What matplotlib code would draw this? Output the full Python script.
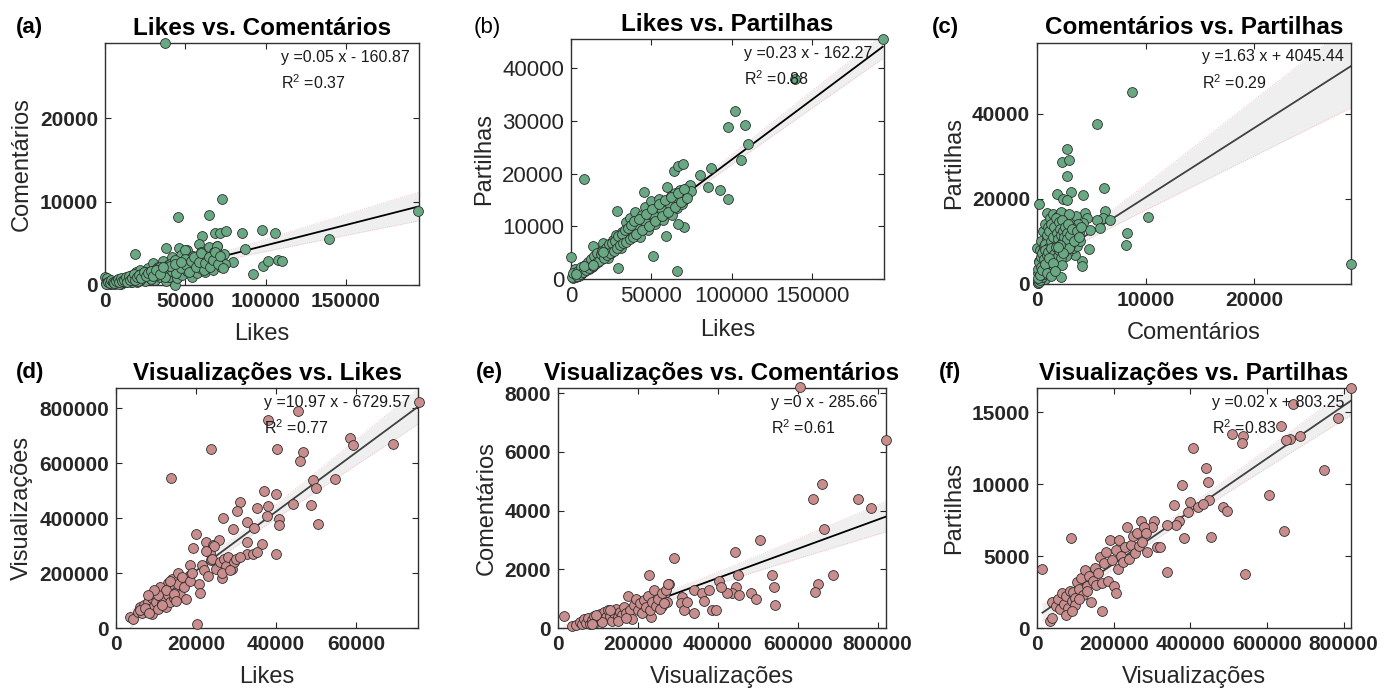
import numpy as np
import matplotlib
matplotlib.use('Agg')
import matplotlib.pyplot as plt

plt.rcParams['font.family'] = ['Liberation Sans', 'DejaVu Sans']
plt.rcParams['mathtext.fontset'] = 'custom'
plt.rcParams['mathtext.rm'] = 'Liberation Sans'
plt.rcParams['mathtext.it'] = 'Liberation Sans:italic'

# (a) Likes vs. Comentarios
a_x = [37400, 195000, 139300, 72900, 45700, 64600, 68500, 71600, 75400, 85000,
       97600, 105600, 60200, 58800, 87000, 38100, 46200, 50900, 18800, 69600,
       79900, 92400, 98100, 101700, 108000, 110100, 0, 43600, 1000, 2000,
       3000, 4000, 5000, 6000, 7000, 8000, 9000, 10000, 11000, 12000,
       13000, 14000, 15000, 16000, 17000, 18000, 19000, 20000, 21000, 22000,
       23000, 24000, 25000, 26000, 27000, 28000, 29000, 30000, 31000, 32000,
       33000, 34000, 35000, 36000, 37000, 38000, 39000, 40000, 41000, 42000,
       43000, 44000, 45000, 46000, 47000, 48000, 49000, 50000, 51000, 52000,
       53000, 54000, 55000, 56000, 57000, 58000, 59000, 60000, 61000, 62000,
       63000, 64000, 65000, 66000, 67000, 68000, 69000, 70000, 71000, 72000,
       73000, 74000, 75000, 3500, 6500, 9500, 12500, 15500, 18500, 21500,
       24500, 27500, 30500, 33500, 36500, 39500, 42500, 500, 1500, 2500,
       4500, 5500, 7500, 8500, 10500, 11500, 13500, 14500, 16500, 17500,
       19500, 20500, 22500, 23500, 25500, 26500, 28500, 29500, 31500, 32500,
       34500, 35500, 37500, 38500, 40500, 41500, 43500, 44500, 46500, 47500,
       49500, 50500, 52500, 53500, 55500, 56500, 58500, 59500, 61500, 62500,
       64500, 65500, 67500, 68500, 70500, 71500, 73500, 5200, 8800, 12200,
       15800, 19200, 22800, 26200, 29800, 33200, 36800, 40200, 43800, 47200,
       800, 1800, 2800, 3800, 4800, 5800, 6800, 7800, 8800, 9800,
       10800, 11800, 12800, 13800, 14800, 15800, 16800, 17800, 18800, 19800,
       21000, 22500, 24000, 25500, 27000, 28500, 30000, 32000, 34000, 36000]
a_y = [29000, 8860, 5550, 10300, 8200, 8350, 6270, 6270, 6500, 6270,
       6630, 6270, 5900, 4900, 4270, 4450, 4450, 4150, 3750, 4670,
       2790, 1320, 2240, 2900, 2950, 2900, 900, 0, 800, 300,
       150, 500, 200, 100, 400, 250, 600, 150, 350, 700,
       300, 500, 900, 300, 1200, 600, 1500, 400, 900, 1800,
       700, 1300, 500, 1100, 2000, 800, 1500, 2600, 600, 1200,
       2200, 900, 1700, 2900, 1300, 500, 2400, 1000, 1900, 3300,
       1500, 2700, 800, 2000, 3600, 1200, 2500, 4200, 1700, 3000,
       2200, 1000, 3500, 2600, 1400, 3100, 2000, 4000, 2800, 1600,
       3600, 2300, 4500, 3000, 1800, 3900, 2600, 4700, 3300, 2100,
       2900, 3700, 2500, 250, 450, 300, 550, 700, 1000, 600,
       1400, 1200, 1700, 1400, 2000, 1600, 2300, 200, 100, 350,
       150, 400, 250, 150, 600, 300, 500, 800, 400, 600,
       1000, 500, 1300, 900, 1500, 1100, 700, 1600, 1900, 1200,
       2200, 1500, 1000, 2100, 2500, 1700, 3000, 1400, 2300, 2000,
       3100, 2400, 1600, 2900, 3300, 2100, 2700, 3800, 1800, 2600,
       3300, 2200, 3000, 4000, 2500, 3500, 2000, 300, 450, 500,
       800, 900, 1100, 1350, 1600, 1800, 2000, 2300, 2500, 2700,
       150, 400, 250, 600, 350, 200, 500, 700, 300, 800,
       450, 650, 950, 350, 1100, 550, 800, 1300, 650, 1000,
       1200, 850, 1500, 1050, 1400, 1700, 1100, 1800, 1300, 2100]

# (b) Likes vs. Partilhas
b_x = [194000, 139400, 102100, 97900, 108300, 110000, 105800, 87100, 80300, 85100,
       92700, 97500, 64100, 66800, 69900, 8300, 28400, 66200, 0, 51200,
       29000, 70300, 66800, 59100, 45400, 1000, 2000, 2500, 3000, 4000,
       5000, 6000, 7000, 8000, 9000, 10000, 11000, 12000, 13000, 14000,
       15000, 16000, 17000, 18000, 19000, 20000, 21000, 22000, 23000, 24000,
       25000, 26000, 27000, 28000, 29000, 30000, 31000, 32000, 33000, 34000,
       35000, 36000, 37000, 38000, 39000, 40000, 41000, 42000, 43000, 44000,
       45000, 46000, 47000, 48000, 49000, 50000, 51000, 52000, 53000, 54000,
       55000, 56000, 57000, 58000, 59000, 60000, 61000, 62000, 63000, 64000,
       65000, 66000, 67000, 68000, 69000, 70000, 71000, 72000, 73000, 74000,
       75000, 6500, 11500, 16500, 21500, 26500, 31500, 36500, 41500, 46500,
       51500, 56500, 61500, 500, 1500, 3500, 4500, 5500, 6500, 7500,
       8500, 9500, 10500, 11500, 12500, 13500, 14500, 15500, 16500, 17500,
       18500, 19500, 20500, 21500, 22500, 23500, 24500, 25500, 26500, 27500,
       28500, 29500, 30500, 31500, 32500, 33500, 34500, 35500, 36500, 37500,
       38500, 39500, 40500, 42500, 44500, 46500, 48500, 50500, 52500, 54500,
       56500, 58500, 60500, 62500, 64500, 66500, 68500, 70500, 72500, 3000,
       8000, 14000, 20000]
b_y = [45450, 37900, 31900, 28800, 29300, 25700, 22600, 21000, 19800, 17400,
       16900, 15200, 20500, 21500, 21800, 19000, 12950, 1500, 4200, 4420,
       2140, 9860, 10430, 8200, 16550, 200, 800, 1800, 300, 1100,
       600, 1900, 1200, 2500, 1600, 2800, 1800, 3300, 2200, 6300,
       2900, 4200, 3300, 5200, 3800, 6800, 4400, 5600, 3900, 6100,
       5000, 7400, 5600, 8400, 6200, 7500, 5800, 9000, 7000, 10800,
       7700, 9300, 11500, 8200, 10200, 12800, 9000, 11200, 8000, 12200,
       10000, 13600, 11000, 9200, 12600, 14800, 11800, 10400, 13500, 12000,
       15200, 13000, 11200, 14400, 12500, 17400, 13800, 15700, 12200, 14700,
       16300, 13400, 15500, 16800, 14200, 16000, 15100, 17200, 16400, 17800,
       16600, 1000, 2400, 3700, 4900, 6000, 7100, 8400, 9500, 10600,
       11900, 13100, 14000, 300, 1200, 500, 1600, 900, 2300, 1300,
       2700, 1700, 3300, 2000, 3700, 2500, 4300, 3000, 5000, 3500,
       4800, 5400, 4000, 5800, 4500, 6600, 4900, 6900, 5400, 7300,
       5900, 8100, 6400, 8600, 6800, 9200, 7100, 9700, 7600, 10300,
       8000, 11000, 8600, 11400, 9300, 12300, 10000, 13200, 11000, 14200,
       12000, 15000, 12800, 15500, 13600, 16400, 14600, 17000, 15400, 1000,
       2400, 2600, 5200]

# (c) Comentarios vs. Partilhas
c_x = [8790, 5560, 2790, 2270, 2950, 2790, 3100, 1810, 4270, 2420,
       2740, 210, 6200, 10260, 8270, 8200, 28950, 6270, 6110, 6730,
       5500, 5810, 4420, 4580, 4270, 4890, 4820, 4120, 4120, 3500,
       2210, 890, 0, 100, 200, 300, 400, 500, 600, 700,
       800, 900, 1000, 1100, 1200, 1300, 1400, 1500, 1600, 1700,
       1800, 1900, 2000, 2100, 2200, 2300, 2400, 2500, 2600, 2700,
       2800, 2900, 3000, 3100, 3200, 3300, 3400, 3500, 3600, 3700,
       3800, 3900, 4000, 150, 250, 350, 450, 550, 650, 750,
       850, 950, 1050, 1150, 1250, 1350, 1450, 1550, 1650, 1750,
       1850, 1950, 2050, 2150, 2250, 2350, 2450, 2550, 2650, 2750,
       2850, 2950, 3050, 3150, 50, 120, 180, 250, 320, 380,
       450, 520, 580, 650, 720, 780, 850, 920, 980, 1050,
       1120, 1180, 1250, 1320, 1380, 1450, 1520, 1580, 1650, 1720,
       1780, 1850, 1920, 1980, 2050, 2120, 2180, 2250, 2320, 2380,
       2450, 2520, 2580, 2650, 2720, 2780, 2850, 2920, 3050, 3250,
       3450, 3650, 3850, 4050, 60, 140, 220, 300, 380, 460,
       540, 620, 700, 800, 80, 160, 240, 320, 400, 480,
       560, 640, 720, 800, 880, 960, 1040, 1120, 1200, 1280,
       1360, 1440, 1520, 1600, 1680, 1760, 1840, 1920, 2000, 2080,
       2160, 2240, 2320, 2400, 100, 300, 500, 700, 900, 1100,
       1300, 1500, 1700, 1900]
c_y = [45180, 37720, 31690, 28700, 29100, 25480, 21720, 21100, 20940, 20000,
       19770, 18820, 22510, 15770, 12000, 9180, 4630, 17250, 15450, 15060,
       15060, 13100, 16630, 15450, 14280, 12700, 8160, 5490, 4230, 6820,
       1720, 16630, 8550, 300, 1500, 800, 3000, 2000, 5000, 1200,
       4000, 7000, 2500, 9000, 5500, 3500, 11000, 7500, 13000, 9500,
       4500, 12000, 8000, 15000, 10500, 6500, 13500, 16500, 9000, 11500,
       14500, 7500, 12500, 10000, 15500, 8500, 13000, 11000, 16000, 9000,
       14000, 12000, 10000, 5500, 8000, 10000, 6500, 12500, 9000, 14000,
       6000, 10500, 13500, 15500, 8500, 12500, 16500, 10000, 6000, 14500,
       11000, 16000, 13000, 5000, 17000, 12000, 9500, 14000, 6500, 13000,
       10500, 16500, 9000, 13500, 1000, 2500, 600, 4200, 1800, 6000,
       3000, 7800, 2200, 5500, 9500, 3800, 7000, 11500, 4800, 8500,
       12500, 6000, 10000, 14000, 7500, 11000, 5500, 13500, 9000, 15500,
       7000, 12000, 10500, 14500, 8000, 13000, 11500, 9500, 15000, 12500,
       7500, 11000, 13500, 9500, 12000, 10500, 14000, 8500, 11500, 13000,
       10000, 12500, 11000, 13500, 200, 500, 1200, 900, 2800, 1600,
       3500, 2400, 4500, 3200, 3500, 5200, 2100, 6400, 4100, 7300,
       2800, 5800, 8000, 3600, 6900, 4500, 7600, 3100, 5400, 8400,
       4000, 6200, 7100, 3800, 5900, 8800, 4600, 6600, 7900, 5200,
       9100, 6000, 4400, 7400, 1500, 2200, 3300, 4800, 2600, 6100,
       1900, 5000, 3000, 8600]

# (d) Visualizacoes vs. Likes
d_x = [75800, 45400, 37900, 58500, 59300, 69200, 40200, 23700, 46700, 46000,
       13700, 54800, 49200, 50000, 37000, 39900, 31000, 35200, 30200, 44300,
       48800, 38100, 37700, 40700, 40800, 50400, 26800, 32800, 29200, 34600,
       20000, 19300, 22400, 24300, 25800, 32800, 36400, 23500, 23700, 32800,
       34200, 35300, 40000, 26400, 20800, 21000, 20200, 18500, 18500, 3500,
       4200, 5500, 6000, 6500, 7000, 7500, 8000, 8500, 9000, 9000,
       9500, 10000, 10000, 10500, 11000, 11500, 12000, 12000, 12500, 13000,
       13000, 13500, 14000, 14000, 14500, 15000, 15500, 15500, 16000, 16500,
       17000, 17500, 18500, 19000, 6000, 7200, 8200, 11000, 12500, 13500,
       14500, 15000, 10500, 11500, 9500, 8000, 21500, 22000, 23000, 24000,
       25000, 26000, 27000, 27500, 28000, 29000, 29500, 30000, 31000, 26500,
       28500, 24500, 22500]
d_y = [822800, 790000, 756000, 692000, 665000, 670000, 653000, 650000, 641000, 608000,
       546000, 542000, 538000, 510000, 498000, 487000, 457000, 435000, 425000, 451000,
       447000, 444000, 408000, 396000, 374000, 378000, 402000, 387000, 360000, 365000,
       341000, 290000, 314000, 302000, 320000, 312000, 307000, 272000, 247000, 268000,
       268000, 275000, 268000, 181000, 159000, 126000, 13000, 231000, 193000, 40000,
       33000, 60000, 75000, 55000, 85000, 65000, 95000, 70000, 110000, 50000,
       80000, 130000, 95000, 70000, 115000, 90000, 135000, 100000, 75000, 165000,
       120000, 95000, 180000, 140000, 110000, 130000, 160000, 200000, 120000, 185000,
       150000, 105000, 170000, 200000, 65000, 72000, 55000, 150000, 140000, 170000,
       125000, 100000, 120000, 85000, 140000, 120000, 230000, 210000, 190000, 250000,
       215000, 240000, 250000, 225000, 260000, 215000, 240000, 250000, 260000, 200000,
       210000, 300000, 280000]

# (e) Visualizacoes vs. Comentarios
e_x = [605000, 821000, 661000, 638000, 750000, 784000, 667000, 507000, 444000, 290000,
       227000, 451000, 536000, 688000, 650000, 644000, 540000, 544000, 446000, 436000,
       423000, 454000, 402000, 407000, 484000, 496000, 340000, 361000, 365000, 377000,
       386000, 396000, 340000, 311000, 307000, 315000, 322000, 277500, 267500, 273500,
       261000, 232000, 15000, 36000, 45000, 55000, 60000, 65000, 70000, 75000,
       80000, 85000, 90000, 95000, 100000, 105000, 110000, 115000, 120000, 125000,
       130000, 135000, 140000, 145000, 150000, 155000, 160000, 165000, 170000, 175000,
       180000, 185000, 190000, 195000, 200000, 205000, 210000, 215000, 220000, 225000,
       230000, 235000, 240000, 245000, 250000, 255000, 260000, 265000, 270000, 275000,
       110000, 130000, 150000, 170000, 95000, 85000]
e_y = [8200, 6390, 4900, 4400, 4400, 4100, 3390, 3000, 2600, 2400,
       1810, 1810, 1810, 1810, 1500, 1210, 1410, 790, 1410, 1190,
       1190, 1110, 1610, 1410, 1190, 995, 1300, 1190, 927, 1300,
       597, 597, 509, 1073, 848, 621, 903, 1490, 1190, 903,
       735, 384, 394, 55, 100, 200, 120, 300, 180, 350,
       150, 280, 400, 220, 350, 480, 300, 550, 380, 600,
       420, 250, 500, 650, 380, 560, 450, 700, 520, 1100,
       630, 300, 780, 1000, 600, 850, 500, 950, 700, 1100,
       620, 900, 1300, 750, 1000, 650, 1200, 850, 1300, 1500,
       200, 600, 250, 350, 450, 120]

# (f) Visualizacoes vs. Partilhas
f_x = [820000, 667600, 636000, 784000, 686700, 660500, 650000, 508000, 538500, 534300,
       407800, 441000, 749500, 445400, 377400, 605700, 399200, 449600, 420900, 434000,
       358200, 486200, 495000, 393200, 371200, 362600, 338200, 305000, 300600, 383500,
       454100, 88100, 645600, 312000, 320700, 286000, 543000, 338200, 14000, 170000,
       33200, 40300, 40000, 50000, 55000, 60000, 65000, 70000, 75000, 80000,
       85000, 90000, 95000, 100000, 105000, 110000, 115000, 120000, 125000, 130000,
       135000, 140000, 145000, 150000, 155000, 160000, 165000, 170000, 175000, 180000,
       185000, 190000, 195000, 200000, 205000, 210000, 215000, 220000, 225000, 230000,
       235000, 240000, 245000, 250000, 255000, 260000, 265000, 270000, 275000, 280000,
       285000, 100000, 110000, 75000, 90000, 130000, 205000]
f_y = [16700, 15580, 14030, 14610, 13310, 13150, 13040, 13450, 13330, 12850,
       12530, 11150, 10960, 10150, 9970, 9230, 8760, 8880, 8420, 8650,
       8540, 8420, 8140, 8070, 7430, 7150, 7150, 7450, 7030, 6270,
       6340, 6270, 6760, 5650, 5650, 5260, 3780, 3900, 4080, 1150,
       505, 692, 1800, 1500, 2000, 1300, 2400, 1700, 2200, 1400,
       2600, 1900, 2500, 2100, 3200, 2700, 3500, 2300, 4000, 2900,
       3600, 1800, 3300, 4200, 3000, 3800, 4900, 3100, 4500, 5300,
       3300, 6100, 4700, 2900, 5400, 4100, 6100, 5000, 4600, 5600,
       7000, 4800, 5800, 6400, 5200, 6600, 5700, 7400, 6000, 7000,
       6600, 1600, 2000, 900, 1200, 2600, 2400]

# fitted lines (slope, intercept) and the printed equations
fit_slope = [0.049, 0.228, 1.63, 10.76, 0.00497, 0.0183]
fit_intercept = [-160.87, -162.27, 4045.44, -6729.57, -285.66, 803.25]
eq_labels = ['y =0.05 x - 160.87', 'y =0.23 x - 162.27', 'y =1.63 x + 4045.44',
             'y =10.97 x - 6729.57', 'y =0 x - 285.66', 'y =0.02 x + 803.25']
r2_labels = ['0.37', '0.88', '0.29', '0.77', '0.61', '0.83']

titles = ['Likes vs. Comentários', 'Likes vs. Partilhas', 'Comentários vs. Partilhas',
          'Visualizações vs. Likes', 'Visualizações vs. Comentários', 'Visualizações vs. Partilhas']
xlabels = ['Likes', 'Likes', 'Comentários', 'Likes', 'Visualizações', 'Visualizações']
ylabels = ['Comentários', 'Partilhas', 'Partilhas', 'Visualizações', 'Comentários', 'Partilhas']
panel_tags = ['(a)', '(b)', '(c)', '(d)', '(e)', '(f)']
xticks = [[0, 50000, 100000, 150000], [0, 50000, 100000, 150000], [0, 10000, 20000],
          [0, 20000, 40000, 60000], [0, 200000, 400000, 600000, 800000], [0, 200000, 400000, 600000, 800000]]
yticks = [[0, 10000, 20000], [0, 10000, 20000, 30000, 40000], [0, 20000, 40000],
          [0, 200000, 400000, 600000, 800000], [0, 2000, 4000, 6000, 8000], [0, 5000, 10000, 15000]]
xlims = [195500, 194800, 28940, 75500, 820800, 819000]
ylims = [29000, 45500, 56700, 872700, 8170, 16660]

xs = [a_x, b_x, c_x, d_x, e_x, f_x]
ys = [a_y, b_y, c_y, d_y, e_y, f_y]

# axes positions in figure fraction [left, bottom, width, height]
positions = [[0.0753, 0.590, 0.225, 0.348], [0.4093, 0.5986, 0.2244, 0.345], [0.7434, 0.5914, 0.225, 0.347],
             [0.0832, 0.0964, 0.2165, 0.345], [0.400, 0.0964, 0.235, 0.345], [0.7434, 0.0964, 0.225, 0.345]]
text_x = [0.56, 0.553, 0.525, 0.49, 0.65, 0.557]
tag_pos = [(16, 27), (474, 27), (932, 27), (16, 372), (476, 372), (939, 372)]
dot_colors = ['#68a983'] * 3 + ['#c98d8d'] * 3
line_colors = ['black', 'black', '#404040', '#404040', 'black', '#404040']

fig = plt.figure(figsize=(13.95, 6.95), dpi=100)

for i in range(6):
    ax = fig.add_axes(positions[i])
    x = np.array(xs[i], dtype=float)
    y = np.array(ys[i], dtype=float)
    bold_ticks = i != 1

    # regression line with 95% confidence band
    xx = np.linspace(x.min(), x.max(), 200)
    yy = fit_slope[i] * xx + fit_intercept[i]
    n = len(x)
    xm = x.mean()
    sxx = ((x - xm) ** 2).sum()
    resid = y - (fit_slope[i] * x + fit_intercept[i])
    s = np.sqrt((resid ** 2).sum() / (n - 2))
    hw = 1.96 * s * np.sqrt(1.0 / n + (xx - xm) ** 2 / sxx)
    ax.fill_between(xx, yy - hw, yy + hw, color='#efefef', lw=0, zorder=1)
    ax.plot(xx, yy - hw, color='#f0b8b8', lw=0.6, ls=':', zorder=1)
    ax.plot(xx, yy + hw, color='#f0b8b8', lw=0.6, ls=':', zorder=1)
    ax.plot(xx, yy, color=line_colors[i], lw=1.3, zorder=2)

    ax.scatter(x, y, s=50, c=dot_colors[i], edgecolors='#2e2e2e', linewidths=0.6,
               zorder=3, clip_on=False)

    ax.set_xlim(0, xlims[i])
    ax.set_ylim(0, ylims[i])
    ax.set_xticks(xticks[i])
    ax.set_yticks(yticks[i])
    tw = 'bold' if bold_ticks else 'normal'
    tfs = 15 if bold_ticks else 16
    ax.set_xticklabels([str(t) for t in xticks[i]], fontsize=tfs, fontweight=tw, color='#262626')
    ax.set_yticklabels([str(t) for t in yticks[i]], fontsize=tfs, fontweight=tw, color='#262626')
    ax.tick_params(direction='in', top=True, right=True, length=4, width=0.8, color='#262626', pad=5)
    for sp in ax.spines.values():
        sp.set_color('#303030')
        sp.set_linewidth(1.0)

    ax.set_title(titles[i], fontsize=17.5, fontweight='bold', pad=6)
    ax.set_xlabel(xlabels[i], fontsize=17, color='#262626', labelpad=9)
    ax.set_ylabel(ylabels[i], fontsize=17, color='#262626', labelpad=5)

    ax.text(text_x[i], 0.942, eq_labels[i], transform=ax.transAxes, fontsize=11.5,
            va='center', ha='left', color='#1a1a1a', zorder=4)
    ax.text(text_x[i], 0.835, 'R$^2$ =' + r2_labels[i], transform=ax.transAxes, fontsize=11.5,
            va='center', ha='left', color='#1a1a1a', zorder=4)

    fig.text(tag_pos[i][0] / 1395, 1 - tag_pos[i][1] / 695, panel_tags[i],
             fontsize=16, fontweight='bold' if bold_ticks else 'normal',
             va='center', ha='left')

fig.savefig('out.png', dpi=100)
